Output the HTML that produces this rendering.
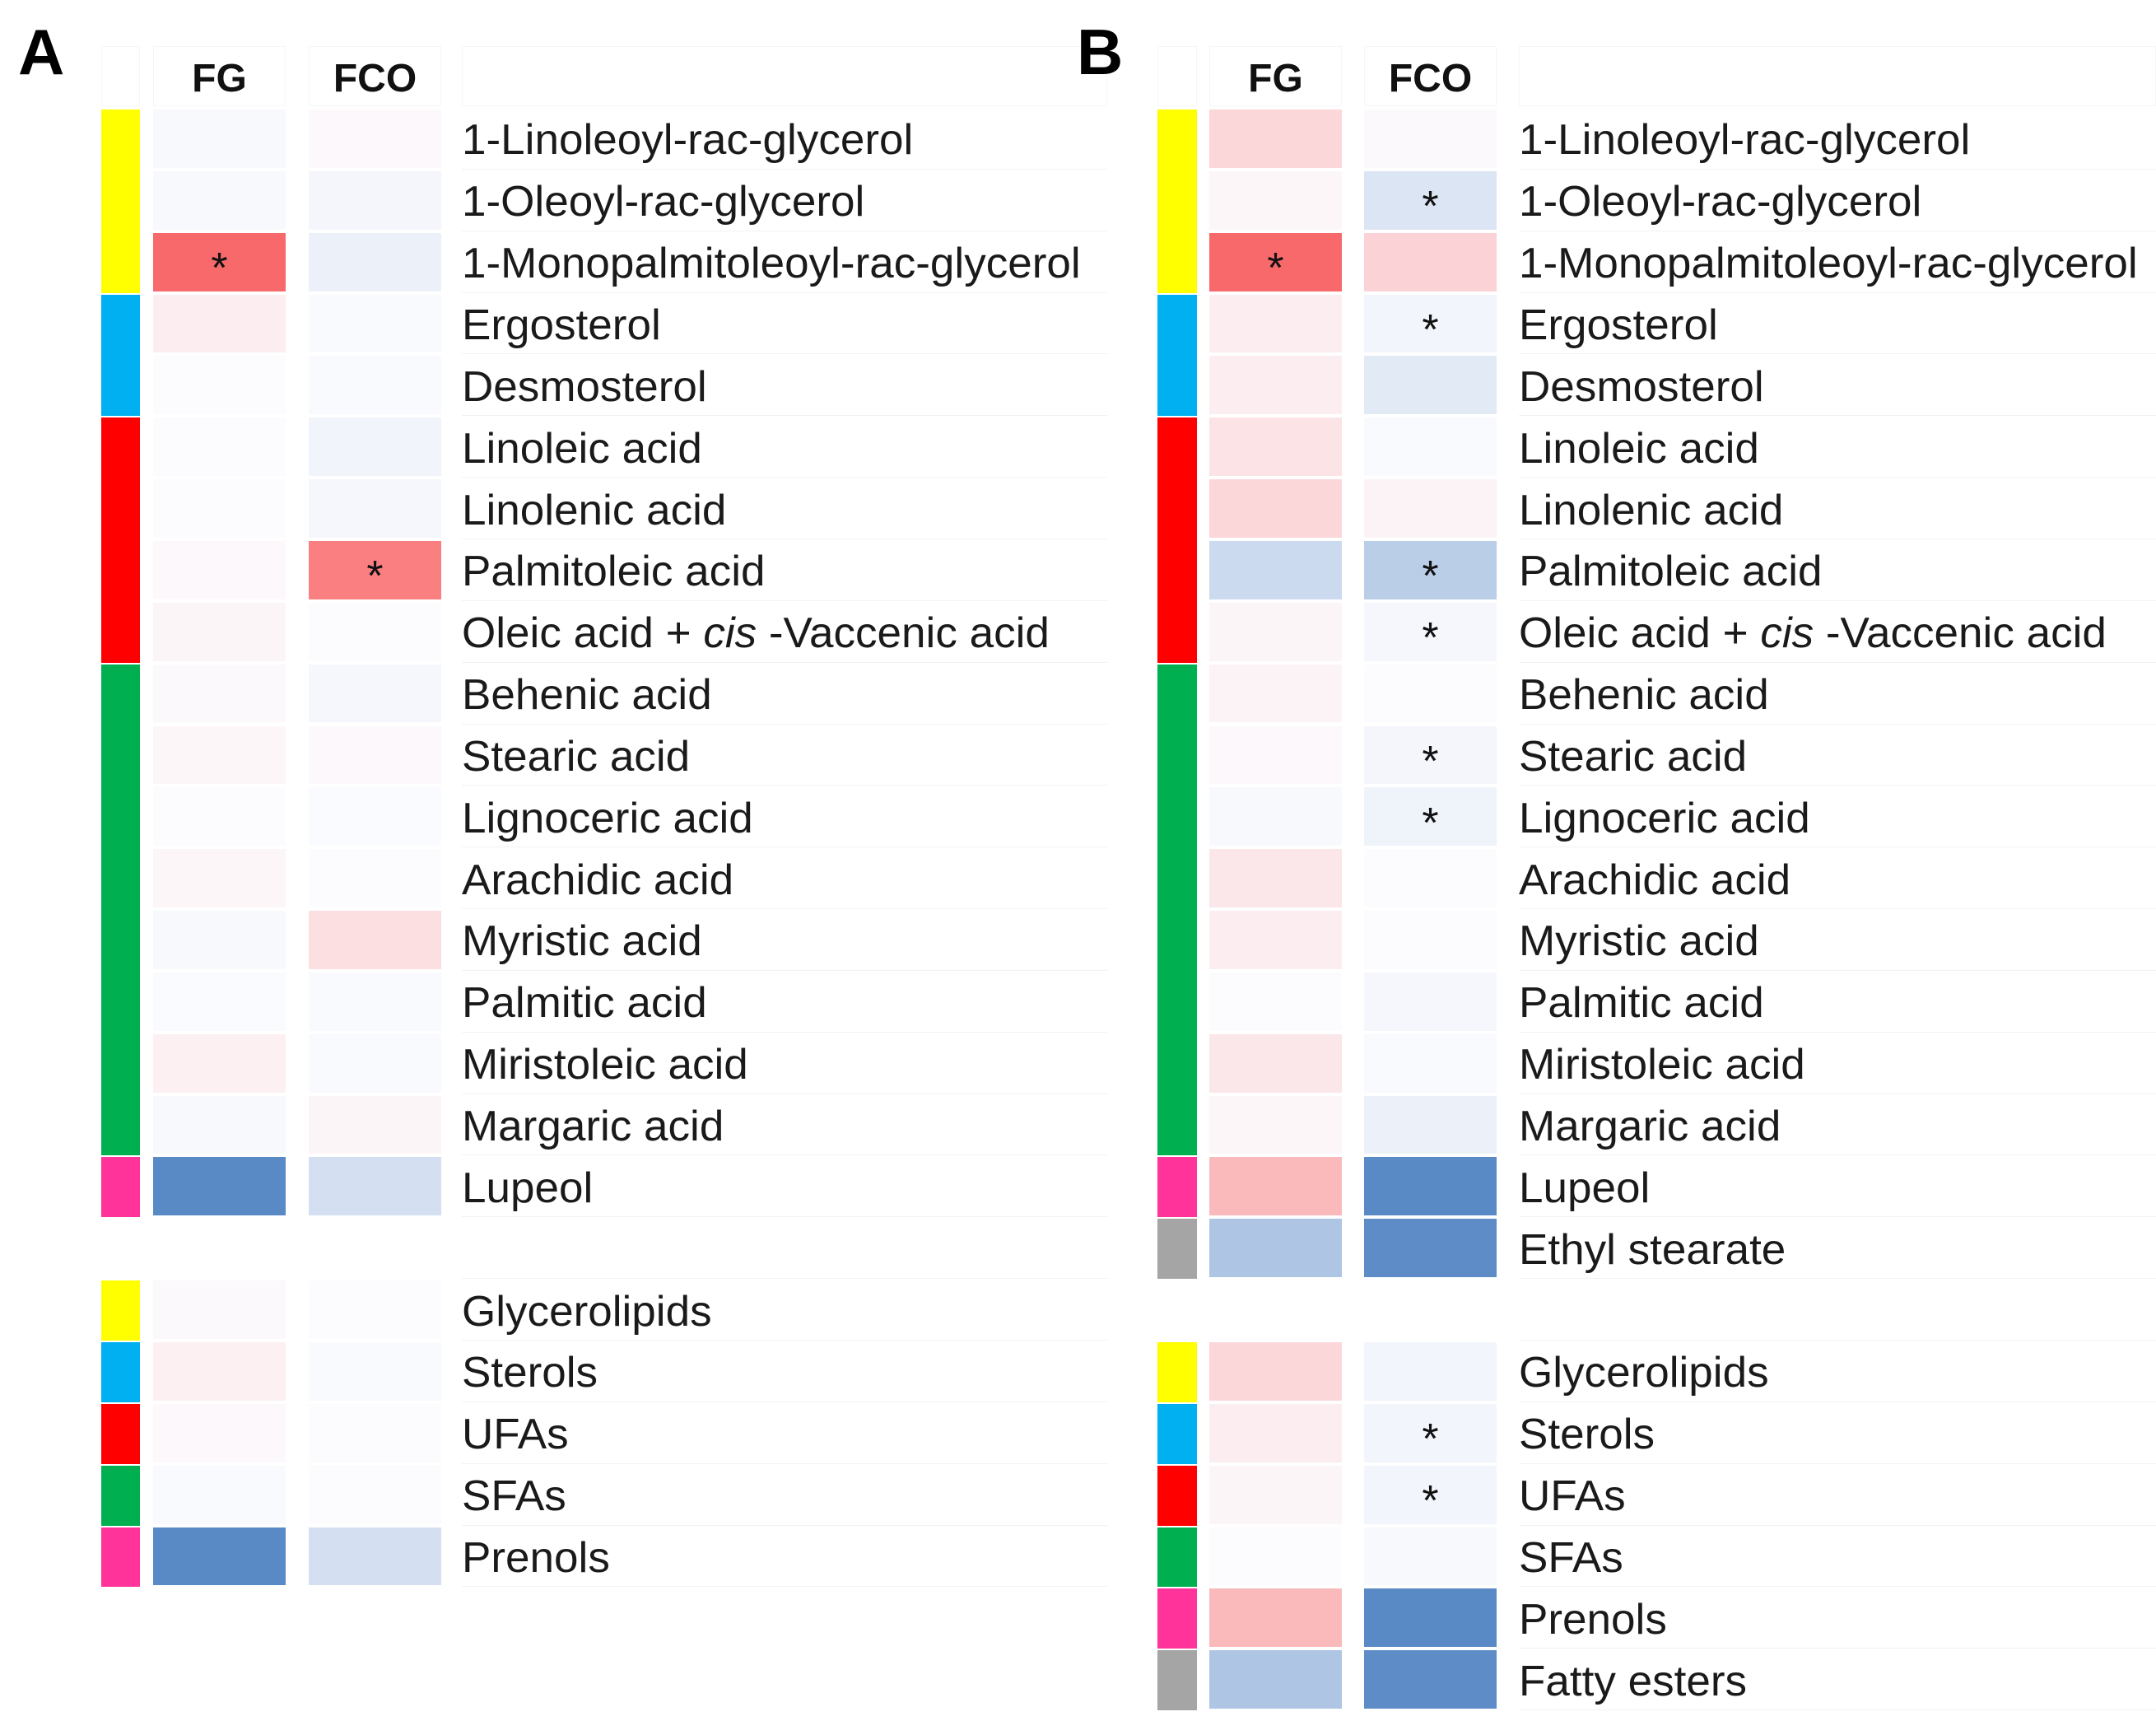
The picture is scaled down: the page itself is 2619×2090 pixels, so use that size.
<!DOCTYPE html>
<html><head><meta charset="utf-8">
<style>
html,body{margin:0;padding:0;background:#fff;}
#root{position:relative;width:2619px;height:2090px;overflow:hidden;background:#fff;font-family:"Liberation Sans",sans-serif;}
.abs{position:absolute;box-sizing:border-box;}
.lbl{position:absolute;white-space:nowrap;font-size:52px;color:#1a1a1a;transform-origin:0 50%;line-height:1;}
.hdr{position:absolute;font-weight:bold;font-size:48px;color:#111;text-align:center;line-height:1;}
.star{position:absolute;font-size:52px;color:#111;text-align:center;line-height:1;}
.plabel{position:absolute;font-size:78px;font-weight:bold;z-index:5;}
</style></head>
<body>
<div id="root">
  <div class="plabel" style="left:22px;top:18px;">A</div>
  <div class="plabel" style="left:1308px;top:18px;">B</div>
</div>
<script>
const labelsA = ["1-Linoleoyl-rac-glycerol","1-Oleoyl-rac-glycerol","1-Monopalmitoleoyl-rac-glycerol","Ergosterol","Desmosterol","Linoleic acid","Linolenic acid","Palmitoleic acid","OLEIC","Behenic acid","Stearic acid","Lignoceric acid","Arachidic acid","Myristic acid","Palmitic acid","Miristoleic acid","Margaric acid","Lupeol","","Glycerolipids","Sterols","UFAs","SFAs","Prenols"];
const groupsA = ["y","y","y","c","c","r","r","r","r","g","g","g","g","g","g","g","g","p","","y","c","r","g","p"];
const fgA  = [-0.03,-0.03,1.0,0.1,0,0,0,0.03,0.05,0.02,0.04,0,0.04,-0.03,-0.01,0.08,-0.03,-1.0,null,0.02,0.08,0.03,-0.02,-1.0];
const fcoA = [0.03,-0.05,-0.1,-0.02,-0.02,-0.07,-0.04,0.85,0,-0.04,0.03,-0.01,0,0.2,-0.02,-0.02,0.05,-0.25,null,0,-0.02,0,0,-0.25];
const sigFgA  = [0,0,1,0,0,0,0,0,0,0,0,0,0,0,0,0,0,0,0,0,0,0,0,0];
const sigFcoA = [0,0,0,0,0,0,0,1,0,0,0,0,0,0,0,0,0,0,0,0,0,0,0,0];

const labelsB = ["1-Linoleoyl-rac-glycerol","1-Oleoyl-rac-glycerol","1-Monopalmitoleoyl-rac-glycerol","Ergosterol","Desmosterol","Linoleic acid","Linolenic acid","Palmitoleic acid","OLEIC","Behenic acid","Stearic acid","Lignoceric acid","Arachidic acid","Myristic acid","Palmitic acid","Miristoleic acid","Margaric acid","Lupeol","Ethyl stearate","","Glycerolipids","Sterols","UFAs","SFAs","Prenols","Fatty esters"];
const groupsB = ["y","y","y","c","c","r","r","r","r","g","g","g","g","g","g","g","g","p","s","","y","c","r","g","p","s"];
const fgB  = [0.25,0.04,1.0,0.1,0.1,0.17,0.25,-0.3,0.05,0.06,0.03,-0.03,0.15,0.1,0,0.15,0.04,0.45,-0.48,null,0.25,0.1,0.05,0,0.45,-0.48];
const fcoB = [0.02,-0.2,0.28,-0.06,-0.16,-0.02,0.06,-0.4,-0.04,0,-0.05,-0.08,0,0,-0.04,-0.02,-0.1,-1.0,-0.98,null,-0.06,-0.06,-0.06,-0.03,-1.0,-0.98];
const sigFgB  = [0,0,1,0,0,0,0,0,0,0,0,0,0,0,0,0,0,0,0,0,0,0,0,0,0,0];
const sigFcoB = [0,1,0,1,0,0,0,1,1,0,1,1,0,0,0,0,0,0,0,0,0,1,1,0,0,0];

const groupColors = {y:"#FFFF00",c:"#00B0F0",r:"#FF0000",g:"#00B050",p:"#FF3399",s:"#A5A5A5"};
const RED=[248,105,107], MID=[252,252,255], BLUE=[90,138,198];
function colorScale(v){
  const t=Math.min(1,Math.abs(v)); const e=v>=0?RED:BLUE;
  const c=MID.map((m,i)=>Math.round(m+(e[i]-m)*t));
  return "rgb("+c.join(",")+")";
}
const ROW0=131, PITCH=74.85;
function yScale(i){return ROW0+i*PITCH;}
const root=document.getElementById('root');
function mk(cls,name,inter){const d=document.createElement('div');d.className=cls;
  
  
  root.appendChild(d);return d;}

function panel(p,labels,groups,fg,fco,sfg,sfco){
  const X=p.x;
  [[X.bar,X.barW],[X.fg,X.cw],[X.fco,X.cw],[X.txt,X.gridEnd-X.txt]].forEach((c)=>{
    const h=mk('abs','header-cell','false');
    h.style.cssText+=`left:${c[0]}px;top:56px;width:${c[1]}px;height:73px;border:1px solid #f6f6f6;`;
  });
  const h1=mk('hdr','fg-column-header','false');h1.textContent='FG';
  h1.style.cssText+=`left:${X.fg}px;top:72px;width:${X.cw}px;`;
  const h2=mk('hdr','fco-column-header','false');h2.textContent='FCO';
  h2.style.cssText+=`left:${X.fco}px;top:72px;width:${X.cw}px;`;
  labels.forEach((lab,i)=>{
    const y=yScale(i);
    const g=mk('abs','row-gridline','false');
    g.style.cssText+=`left:${X.txt}px;top:${y+PITCH-1}px;width:${X.gridEnd-X.txt}px;height:1px;background:#f2f2f2;`;
    if(groups[i]){
      const b=mk('abs','group-color-bar','false');
      const prev=i>0&&groups[i-1]===groups[i];
      b.style.cssText+=`left:${X.bar}px;top:${y+(prev?-1:2)}px;width:${X.barW}px;height:${PITCH+(prev?1:-2)}px;background:${groupColors[groups[i]]};`;
    }
    [[fg,sfg,X.fg,'fg'],[fco,sfco,X.fco,'fco']].forEach(([vals,sig,cx,nm])=>{
      if(vals[i]===null) return;
      const c=mk('abs','heatmap-cell-'+nm,'false');
      c.style.cssText+=`left:${cx}px;top:${y+2}px;width:${X.cw}px;height:${PITCH-4}px;background:${colorScale(vals[i])};`;
      if(sig[i]){const s=mk('star','significance-star','false');s.textContent='*';
        s.style.cssText+=`left:${cx}px;top:${y+PITCH/2-18}px;width:${X.cw}px;`;}
    });
    if(lab){
      const t=mk('lbl','row-label','false');
      if(lab==="OLEIC"){t.innerHTML='Oleic acid + <i>cis</i> -Vaccenic acid';}
      else t.textContent=lab;
      t.style.left=X.txt+'px';t.style.top=(y+PITCH/2-24)+'px';
      t.style.transform='scaleX(1.02)';
    }
  });
}
panel({x:{bar:123,barW:47,fg:186,fco:375,cw:161,txt:561,gridEnd:1345}},labelsA,groupsA,fgA,fcoA,sigFgA,sigFcoA);
panel({x:{bar:1406,barW:48,fg:1469,fco:1657,cw:161,txt:1845,gridEnd:2619}},labelsB,groupsB,fgB,fcoB,sigFgB,sigFcoB);
</script>
</body></html>
